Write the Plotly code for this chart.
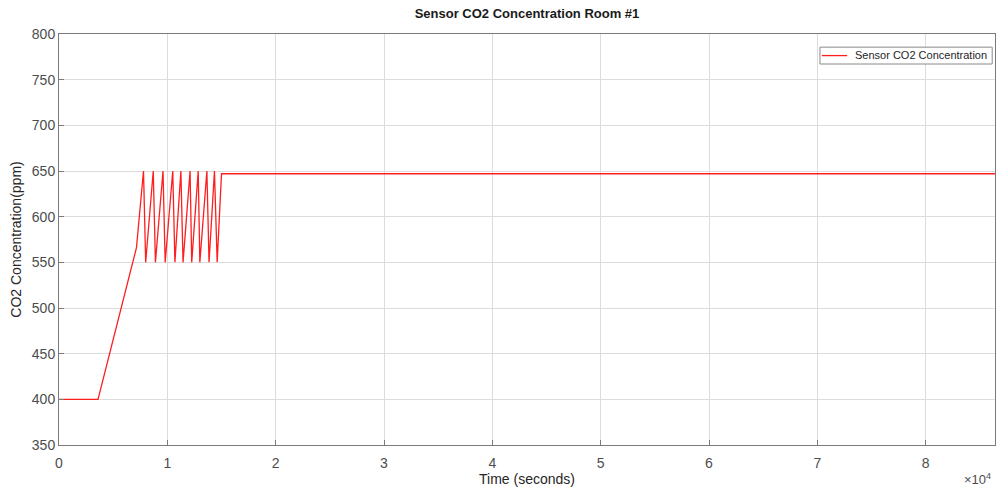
import plotly.graph_objects as go

# Sensor CO2 readings over one day (seconds, ppm)
time_s = [0, 3600, 7150,
          7800, 8000, 8700, 8900, 9600, 9800, 10500, 10700,
          11250, 11450, 12100, 12250, 12850, 13000, 13650, 13850,
          14350, 14600, 15000, 86400]
co2_ppm = [400, 400, 566,
           650, 550, 650, 550, 650, 550, 650, 550,
           650, 550, 650, 550, 650, 550, 650, 550,
           650, 550, 647, 647]

x_tick_vals = [0, 10000, 20000, 30000, 40000, 50000, 60000, 70000, 80000]
x_tick_text = ["0", "1", "2", "3", "4", "5", "6", "7", "8"]
y_tick_vals = [350, 400, 450, 500, 550, 600, 650, 700, 750, 800]

SERIES_NAME = "Sensor CO2 Concentration"
FONT = "Liberation Sans, Arial, sans-serif"
AXIS_COLOR = "#7a7a7a"
GRID_COLOR = "#dcdcdc"
LINE_COLOR = "rgb(255,30,30)"

fig = go.Figure()
fig.add_trace(go.Scatter(
    x=time_s, y=co2_ppm, mode="lines",
    name=SERIES_NAME,
    line=dict(color=LINE_COLOR, width=1.3),
    showlegend=False,
))

fig.update_layout(
    width=997, height=487,
    margin=dict(l=59, r=2, t=34, b=42),
    paper_bgcolor="white", plot_bgcolor="white",
    font=dict(family=FONT, color="#404040", size=13),
    title=dict(text="<b>Sensor CO2 Concentration Room #1</b>",
               x=0.5, xref="paper", xanchor="center",
               y=0.981, yanchor="top",
               font=dict(size=13, color="#1a1a1a")),
    xaxis=dict(range=[0, 86400], tickvals=x_tick_vals, ticktext=x_tick_text,
               showgrid=True, gridcolor=GRID_COLOR, gridwidth=1,
               showline=True, linecolor=AXIS_COLOR, linewidth=1, mirror=True,
               ticks="inside", ticklen=5, tickcolor=AXIS_COLOR,
               tickfont=dict(size=14, color="#4d4d4d"),
               ticklabelstandoff=5,
               zeroline=False,
               title=dict(text="Time (seconds)", standoff=2,
                          font=dict(size=14, color="#262626"))),
    yaxis=dict(range=[350, 800], tickvals=y_tick_vals,
               showgrid=True, gridcolor=GRID_COLOR, gridwidth=1,
               showline=True, linecolor=AXIS_COLOR, linewidth=1, mirror=True,
               ticks="inside", ticklen=5, tickcolor=AXIS_COLOR,
               tickfont=dict(size=14, color="#4d4d4d"),
               zeroline=False,
               title=dict(text="CO2 Concentration(ppm)", standoff=6,
                          font=dict(size=14, color="#262626"))),
)

# Legend: bordered white box, a line sample, and the series label
fig.add_shape(type="rect", xref="paper", yref="paper", layer="above",
              x0=0.813, x1=0.997, y0=0.927, y1=0.968,
              fillcolor="white", line=dict(color="#8a8a8a", width=1))
fig.add_shape(type="line", xref="paper", yref="paper", layer="above",
              x0=0.815, x1=0.842, y0=0.9475, y1=0.9475,
              line=dict(color=LINE_COLOR, width=1.3))
fig.add_annotation(
    text=SERIES_NAME, xref="paper", yref="paper",
    x=0.9936, y=0.948, xanchor="right", yanchor="middle", showarrow=False,
    font=dict(family=FONT, size=11, color="#262626"),
)

# Exponent marker for the x axis
fig.add_annotation(
    text="×10<sup>4</sup>", xref="paper", yref="paper",
    x=0.998, y=-0.106, xanchor="right", yanchor="bottom", showarrow=False,
    font=dict(family=FONT, size=13, color="#4d4d4d"),
)

fig.write_html("out.html")
